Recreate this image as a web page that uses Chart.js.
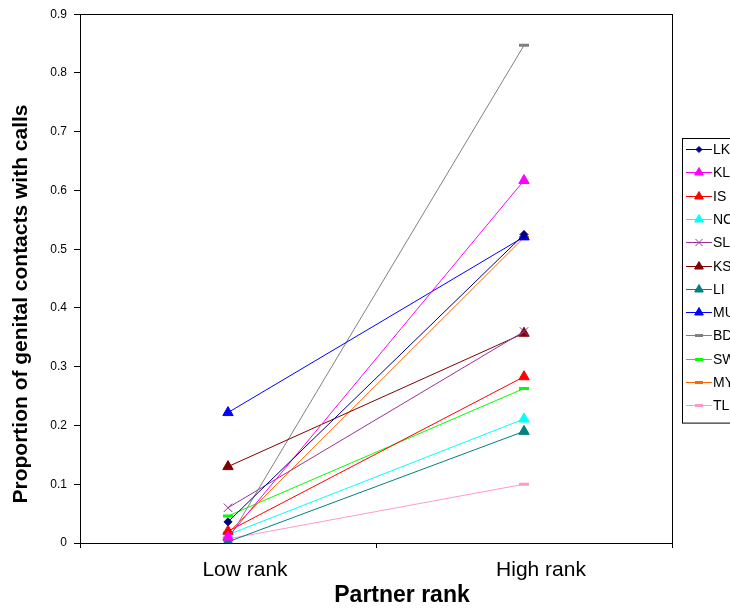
<!DOCTYPE html>
<html>
<head>
<meta charset="utf-8">
<script src="https://cdn.jsdelivr.net/npm/chart.js@4/dist/chart.umd.min.js"></script>
<style>
  html, body { margin: 0; padding: 0; background: #fff; }
</style>
</head>
<body>
<canvas id="myChart" width="730" height="613"></canvas>
<script>
// categories and series
const categories = ['Low rank', 'High rank'];
const seriesNames = ['LK', 'KL', 'IS', 'NC', 'SL', 'KS', 'LI', 'MU', 'BD', 'SW', 'MY', 'TL'];
const LK = [0.036, 0.525];
const KL = [0.010, 0.617];
const IS = [0.020, 0.283];
const NC = [0.014, 0.211];
const SL = [0.060, 0.360];
const KS = [0.130, 0.357];
const LI = [0.002, 0.190];
const MU = [0.222, 0.521];
const BD = [0.005, 0.847];
const SW = [0.046, 0.263];
const MY = [0.017, 0.520];
const TL = [0.007, 0.100];
const yTicks = [0, 0.1, 0.2, 0.3, 0.4, 0.5, 0.6, 0.7, 0.8, 0.9];
const xTitle = 'Partner rank';
const yTitle = 'Proportion of genital contacts with calls';

const values = [LK, KL, IS, NC, SL, KS, LI, MU, BD, SW, MY, TL];
const colors = ['#000080', '#FF00FF', '#FF0000', '#00FFFF', '#993399', '#800000',
                '#008080', '#0000FF', '#808080', '#00FF00', '#FF6600', '#FF99CC'];
const markers = ['rectRot', 'triangle', 'triangle', 'triangle', 'crossRot', 'triangle',
                 'triangle', 'triangle', 'line', 'line', 'line', 'line'];
const FONT = 'Arial, "Liberation Sans", sans-serif';

function markerRadius(m) {
    if (m === 'rectRot') return 4;
    if (m === 'line') return 5;
    return 6;
}

const datasets = seriesNames.map((name, i) => ({
    label: name,
    data: values[i],
    borderColor: colors[i],
    backgroundColor: colors[i],
    borderWidth: 1,
    pointStyle: markers[i],
    pointRadius: markerRadius(markers[i]),
    pointBorderWidth: markers[i] === 'line' ? 3 : 1,
    pointBorderColor: colors[i],
    pointBackgroundColor: colors[i],
    tension: 0
}));

// frame around the plot area
const frame = {
    id: 'frame',
    afterDraw(chart) {
        const { ctx, chartArea: a } = chart;
        ctx.save();
        ctx.strokeStyle = '#000';
        ctx.lineWidth = 1;
        ctx.strokeRect(Math.round(a.left) + 0.5, Math.round(a.top) + 0.5,
                       Math.round(a.right - a.left), Math.round(a.bottom - a.top));
        ctx.restore();
    }
};

// axis titles, placed where the reference has them
const axisTitles = {
    id: 'axisTitles',
    afterDraw(chart) {
        const { ctx } = chart;
        ctx.save();
        ctx.fillStyle = '#000';
        ctx.textAlign = 'center';
        ctx.textBaseline = 'middle';
        ctx.font = 'bold 23px ' + FONT;
        ctx.fillText(xTitle, 402, 596);
        ctx.translate(21, 304);
        ctx.rotate(-Math.PI / 2);
        ctx.font = 'bold 21px ' + FONT;
        ctx.fillText(yTitle, 0, 0);
        ctx.restore();
    }
};

// legend box at the right, cut by the canvas edge like the reference
const sideLegend = {
    id: 'sideLegend',
    afterDraw(chart) {
        const { ctx } = chart;
        const x0 = 682, y0 = 138, rowH = 23.3;
        ctx.save();
        ctx.strokeStyle = '#000';
        ctx.lineWidth = 1;
        ctx.strokeRect(x0 + 0.5, y0 + 0.5, 80, rowH * 12 + 5);
        ctx.font = '14px ' + FONT;
        ctx.textBaseline = 'middle';
        seriesNames.forEach((name, i) => {
            const y = Math.round(y0 + 11 + i * rowH) + 0.5;
            ctx.strokeStyle = colors[i];
            ctx.lineWidth = 1;
            ctx.beginPath();
            ctx.moveTo(686, y);
            ctx.lineTo(712, y);
            ctx.stroke();
            ctx.fillStyle = colors[i];
            ctx.lineWidth = markers[i] === 'line' ? 3 : 1;
            Chart.helpers.drawPoint(ctx, {
                pointStyle: markers[i],
                radius: markerRadius(markers[i]) - 1,
                borderWidth: ctx.lineWidth,
                rotation: 0
            }, 699, y);
            ctx.fillStyle = '#000';
            ctx.fillText(name, 713, y + 1);
        });
        ctx.restore();
    }
};

const ctx = document.getElementById('myChart').getContext('2d');
new Chart(ctx, {
    type: 'line',
    data: { labels: categories, datasets },
    plugins: [frame, axisTitles, sideLegend],
    options: {
        responsive: false,
        animation: false,
        devicePixelRatio: 1,
        layout: { padding: { left: 0, top: 14, right: 58, bottom: 0 } },
        plugins: { legend: { display: false }, tooltip: { enabled: false } },
        scales: {
            x: {
                type: 'category',
                offset: true,
                grid: { offset: true, drawOnChartArea: false, color: '#000', tickLength: 5, tickColor: '#000' },
                border: { color: '#000', width: 1 },
                ticks: { color: '#000', font: { family: FONT, size: 21 }, padding: 10, labelOffset: 17 },
                afterFit(s) { s.height = 70; }
            },
            y: {
                min: 0, max: 0.9,
                afterBuildTicks(s) { s.ticks = yTicks.map(v => ({ value: v })); },
                grid: { drawOnChartArea: false, color: '#000', tickLength: 6, tickColor: '#000' },
                border: { color: '#000', width: 1 },
                ticks: {
                    color: '#000', padding: 7,
                    font: { family: FONT, size: 12 },
                    callback: v => String(Math.round(v * 10) / 10)
                },
                afterFit(s) { s.width = 80; }
            }
        }
    }
});
</script>
</body>
</html>
